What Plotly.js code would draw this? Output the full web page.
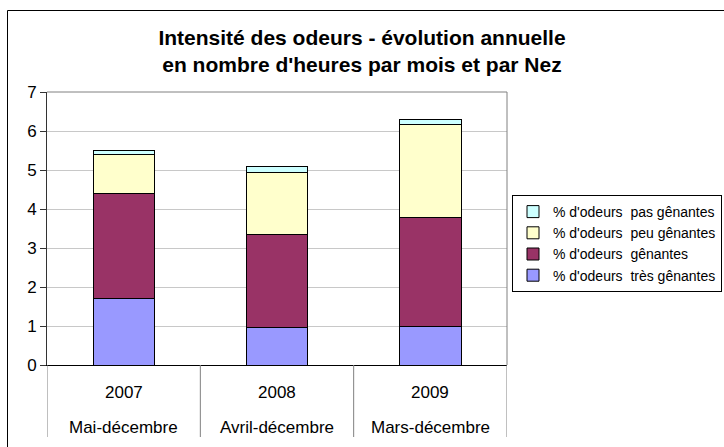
<!DOCTYPE html>
<html>
<head>
<meta charset="utf-8">
<script src="https://cdn.plot.ly/plotly-3.0.1.min.js"></script>
<style>html,body{margin:0;padding:0;background:#fff;}#chart{width:724px;height:447px;}</style>
</head>
<body>
<div id="chart"></div>
<script>
const years = ['2007', '2008', '2009'];
const periods = ['Mai-décembre', 'Avril-décembre', 'Mars-décembre'];
const tresGenantes = [1.70, 0.95, 1.00];
const genantes = [2.69, 2.40, 2.78];
const peuGenantes = [1.02, 1.58, 2.38];
const pasGenantes = [0.08, 0.16, 0.14];
const seriesNames = ["% d'odeurs  très gênantes", "% d'odeurs  gênantes", "% d'odeurs  peu gênantes", "% d'odeurs  pas gênantes"];
const seriesColors = ['#9999FF', '#993366', '#FFFFCC', '#CCFFFF'];
const seriesValues = [tresGenantes, genantes, peuGenantes, pasGenantes];

const FONT = 'Liberation Sans, Arial, sans-serif';

const traces = seriesValues.map((vals, i) => ({
  type: 'bar',
  x: years,
  y: vals,
  name: seriesNames[i],
  width: 0.4,
  marker: {color: seriesColors[i], line: {color: '#000', width: 1}},
  hoverinfo: 'y+name'
}));

// plot area in pixels: x 47..507, y 92..365
const plotH = 273, plotW = 460;
const px = v => (v - 47) / plotW;
const py = v => (365 - v) / plotH;
const shapes = [];
// top & right border of plot area
shapes.push({type: 'line', xref: 'paper', yref: 'paper', x0: 0, x1: 1, y0: 1, y1: 1, line: {color: '#808080', width: 1}});
shapes.push({type: 'line', xref: 'paper', yref: 'paper', x0: 1, x1: 1, y0: 0, y1: 1, line: {color: '#808080', width: 1}});
// category dividers below axis
for (let k = 0; k <= years.length; k++) {
  shapes.push({type: 'line', xref: 'x', yref: 'paper', x0: k - 0.5, x1: k - 0.5, y0: 0, y1: py(437),
    line: {color: '#808080', width: 1}});
}
// outer chart frame (left and top edges visible)
shapes.push({type: 'line', xref: 'paper', yref: 'paper', x0: px(7.5), x1: px(7.5), y0: py(10.5), y1: py(460),
  line: {color: '#000', width: 1}, layer: 'above'});
shapes.push({type: 'line', xref: 'paper', yref: 'paper', x0: px(7.5), x1: px(740), y0: py(10.5), y1: py(10.5),
  line: {color: '#000', width: 1}, layer: 'above'});

const annotations = [];
years.forEach((y, i) => {
  annotations.push({xref: 'x', yref: 'paper', x: i, y: 0, yshift: -27, yanchor: 'middle', xanchor: 'center',
    text: y, showarrow: false, font: {family: FONT, size: 17, color: '#000'}});
  annotations.push({xref: 'x', yref: 'paper', x: i, y: 0, yshift: -62, yanchor: 'middle', xanchor: 'center',
    text: periods[i], showarrow: false, font: {family: FONT, size: 17, color: '#000'}});
});

const layout = {
  width: 724, height: 447,
  margin: {l: 47, r: 217, t: 92, b: 82, pad: 0, autoexpand: false},
  paper_bgcolor: '#fff', plot_bgcolor: '#fff',
  barmode: 'stack',
  showlegend: true,
  title: {
    text: "<b>Intensité des odeurs - évolution annuelle<br>en nombre d'heures par mois et par Nez</b>",
    font: {family: FONT, size: 21, color: '#000'},
    x: 0.5, xref: 'container', xanchor: 'center',
    y: 1 - 45 / 447, yref: 'container', yanchor: 'top'
  },
  xaxis: {
    type: 'category', range: [-0.5, 2.5], showticklabels: false, ticks: '',
    showline: true, linecolor: '#000', linewidth: 1, showgrid: false, zeroline: false, fixedrange: true
  },
  yaxis: {
    range: [0, 7], dtick: 1, tick0: 0, showline: true, linecolor: '#333', linewidth: 1,
    ticks: 'outside', ticklen: 6, tickcolor: '#333', tickwidth: 1,
    gridcolor: '#c8c8c8', gridwidth: 1, zeroline: false,
    tickfont: {family: FONT, size: 17, color: '#000'}, fixedrange: true
  },
  legend: {
    x: px(512), xanchor: 'left', y: py(195), yanchor: 'top',
    traceorder: 'reversed', bordercolor: '#000', borderwidth: 1, bgcolor: '#fff',
    font: {family: FONT, size: 14, color: '#000'}, itemwidth: 30, tracegroupgap: 0
  },
  shapes: shapes,
  annotations: annotations
};

Plotly.newPlot('chart', traces, layout, {displayModeBar: false, staticPlot: true});
</script>
</body>
</html>
